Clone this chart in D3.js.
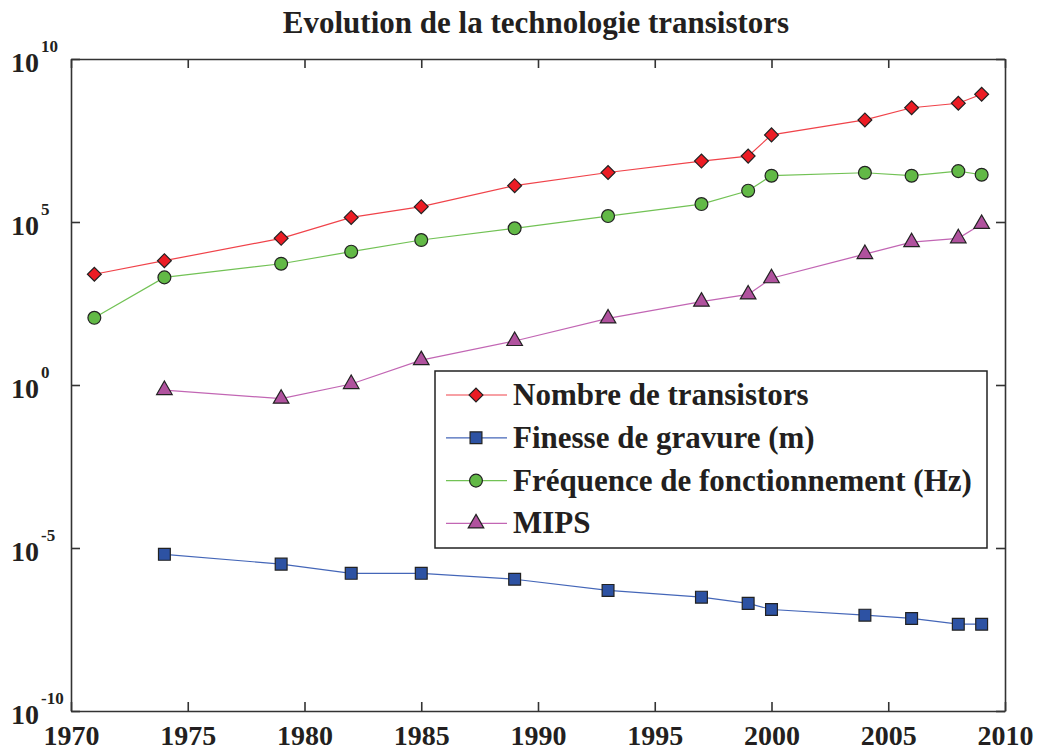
<!DOCTYPE html>
<html>
<head>
<meta charset="utf-8">
<script src="https://cdn.jsdelivr.net/npm/d3@7"></script>
<style>
  body { margin: 0; background: #fff; }
  svg { display: block; }
  svg text { font-family: 'Liberation Serif', 'DejaVu Serif', serif; }
</style>
</head>
<body>
<svg id="chart"></svg>
<script>
// data
const years = [1971, 1974, 1979, 1982, 1985, 1989, 1993, 1997, 1999, 2000, 2004, 2006, 2008, 2009]
const mipsYears = years.slice(1)

const transistors = [2500, 6500, 31600, 138000, 295000, 1.3e6, 3.3e6, 7.4e6, 1.05e7, 4.7e7, 1.35e8, 3.2e8, 4.4e8, 8.3e8]
const finesse = [6.4e-6, 3.2e-6, 1.67e-6, 1.67e-6, 1.1e-6, 5.0e-7, 3.1e-7, 2.0e-7, 1.3e-7, 8.7e-8, 6.9e-8, 4.6e-8, 4.6e-8]
const frequence = [115, 2000, 5250, 12300, 28000, 64000, 152000, 355000, 912000, 2.63e6, 3.24e6, 2.63e6, 3.64e6, 2.82e6]
const mips = [0.7, 0.38, 1.07, 5.8, 22.4, 110, 360, 600, 1880, 10400, 24000, 31600, 87000]

const xTicks = [1970, 1975, 1980, 1985, 1990, 1995, 2000, 2005, 2010]
const yTicks = [1e-10, 1e-5, 1, 1e5, 1e10]
const yExponents = ['-10', '-5', '0', '5', '10']

const seriesNames = ['Nombre de transistors', 'Finesse de gravure (m)', 'Fréquence de fonctionnement (Hz)', 'MIPS']

const series = [
    { name: seriesNames[0], x: years, y: transistors, line: '#f0434a', fill: '#ec1c24', shape: 'diamond' },
    { name: seriesNames[1], x: mipsYears, y: finesse, line: '#4466b8', fill: '#2d52a3', shape: 'square' },
    { name: seriesNames[2], x: years, y: frequence, line: '#72c255', fill: '#62b946', shape: 'circle' },
    { name: seriesNames[3], x: mipsYears, y: mips, line: '#c266b4', fill: '#b0529e', shape: 'triangle' }
]

const width = 1037, height = 751
const margin = { top: 59, right: 32, bottom: 40, left: 71 }
const innerW = width - margin.left - margin.right
const innerH = height - margin.top - margin.bottom
const ink = '#231f20'
const serif = "'Liberation Serif', 'DejaVu Serif', serif"

const svg = d3.select('#chart')
    .attr('width', width)
    .attr('height', height)

const chart = svg.append('g')
    .attr('transform', `translate(${margin.left},${margin.top})`)

const xScale = d3.scaleLinear().domain([1970, 2010]).range([0, innerW])
const yScale = d3.scaleLog().domain([1e-10, 1e10]).range([innerH, 0])

// axes, ticks pointing inside on all four sides
const xAxis = d3.axisBottom(xScale)
    .tickValues(xTicks)
    .tickFormat(d3.format('d'))
    .tickSizeInner(-9)
    .tickSizeOuter(0)
    .tickPadding(14)

const xAxisG = chart.append('g')
    .attr('transform', `translate(0,${innerH})`)
    .call(xAxis)
    .attr('font-family', serif)
xAxisG.selectAll('text')
    .attr('font-family', serif)
    .attr('font-size', 28)
    .attr('font-weight', 'bold')
    .attr('fill', ink)

chart.append('g')
    .call(d3.axisTop(xScale).tickValues(xTicks).tickFormat('').tickSizeInner(-9).tickSizeOuter(0))

chart.append('g')
    .call(d3.axisLeft(yScale).tickValues(yTicks).tickFormat('').tickSizeInner(-9).tickSizeOuter(0))

chart.append('g')
    .attr('transform', `translate(${innerW},0)`)
    .call(d3.axisRight(yScale).tickValues(yTicks).tickFormat('').tickSizeInner(-9).tickSizeOuter(0))

chart.selectAll('.domain, .tick line')
    .attr('stroke', '#333')
    .attr('stroke-width', 1.6)

// y labels as 10 with superscript exponent
const yLabels = svg.append('g')
    .selectAll('text')
    .data(yTicks)
    .join('text')
    .attr('x', 11)
    .attr('y', d => margin.top + yScale(d) + 13)
    .attr('fill', ink)
    .attr('font-weight', 'bold')
    .attr('font-size', 28)
    .text('10')
yLabels.append('tspan')
    .attr('dy', -20)
    .attr('dx', 2)
    .attr('font-size', 17)
    .text((d, i) => yExponents[i])

// lines + markers
const line = d3.line()
    .x(d => xScale(d[0]))
    .y(d => yScale(d[1]))

const symbolFor = {
    diamond: d3.symbol().type(d3.symbolSquare).size(96),
    square: d3.symbol().type(d3.symbolSquare).size(140),
    circle: d3.symbol().type(d3.symbolCircle).size(130),
    triangle: d3.symbol().type(d3.symbolTriangle).size(105)
}
const rotateFor = { diamond: 45, square: 0, circle: 0, triangle: 0 }

const marks = chart.append('g')

series.forEach(s => {
    const pts = s.x.map((yr, i) => [yr, s.y[i]])

    marks.append('path')
        .datum(pts)
        .attr('d', line)
        .attr('fill', 'none')
        .attr('stroke', s.line)
        .attr('stroke-width', 1.2)

    marks.selectAll(null)
        .data(pts)
        .join('path')
        .attr('transform', d => `translate(${xScale(d[0])},${yScale(d[1])}) rotate(${rotateFor[s.shape]})`)
        .attr('d', symbolFor[s.shape])
        .attr('fill', s.fill)
        .attr('stroke', '#222')
        .attr('stroke-width', 1.2)
})

// title
svg.append('text')
    .attr('x', 536)
    .attr('y', 33)
    .attr('text-anchor', 'middle')
    .attr('font-size', 31)
    .attr('font-weight', 'bold')
    .attr('fill', ink)
    .text('Evolution de la technologie transistors')

// legend
const legend = svg.append('g')
    .attr('transform', 'translate(435,371)')

legend.append('rect')
    .attr('width', 552)
    .attr('height', 177)
    .attr('fill', '#fff')
    .attr('stroke', '#222')
    .attr('stroke-width', 1.5)

const rowH = 42.8
series.forEach((s, i) => {
    const row = legend.append('g')
        .attr('transform', `translate(0,${24 + i * rowH})`)

    row.append('line')
        .attr('x1', 11)
        .attr('x2', 72)
        .attr('stroke', s.line)
        .attr('stroke-width', 1.2)

    row.append('path')
        .attr('transform', `translate(41,0) rotate(${rotateFor[s.shape]})`)
        .attr('d', symbolFor[s.shape])
        .attr('fill', s.fill)
        .attr('stroke', '#222')
        .attr('stroke-width', 1.2)

    row.append('text')
        .attr('x', 78)
        .attr('y', 10)
        .attr('font-size', 31)
        .attr('font-weight', 'bold')
        .attr('fill', ink)
        .text(s.name)
})
</script>
</body>
</html>
